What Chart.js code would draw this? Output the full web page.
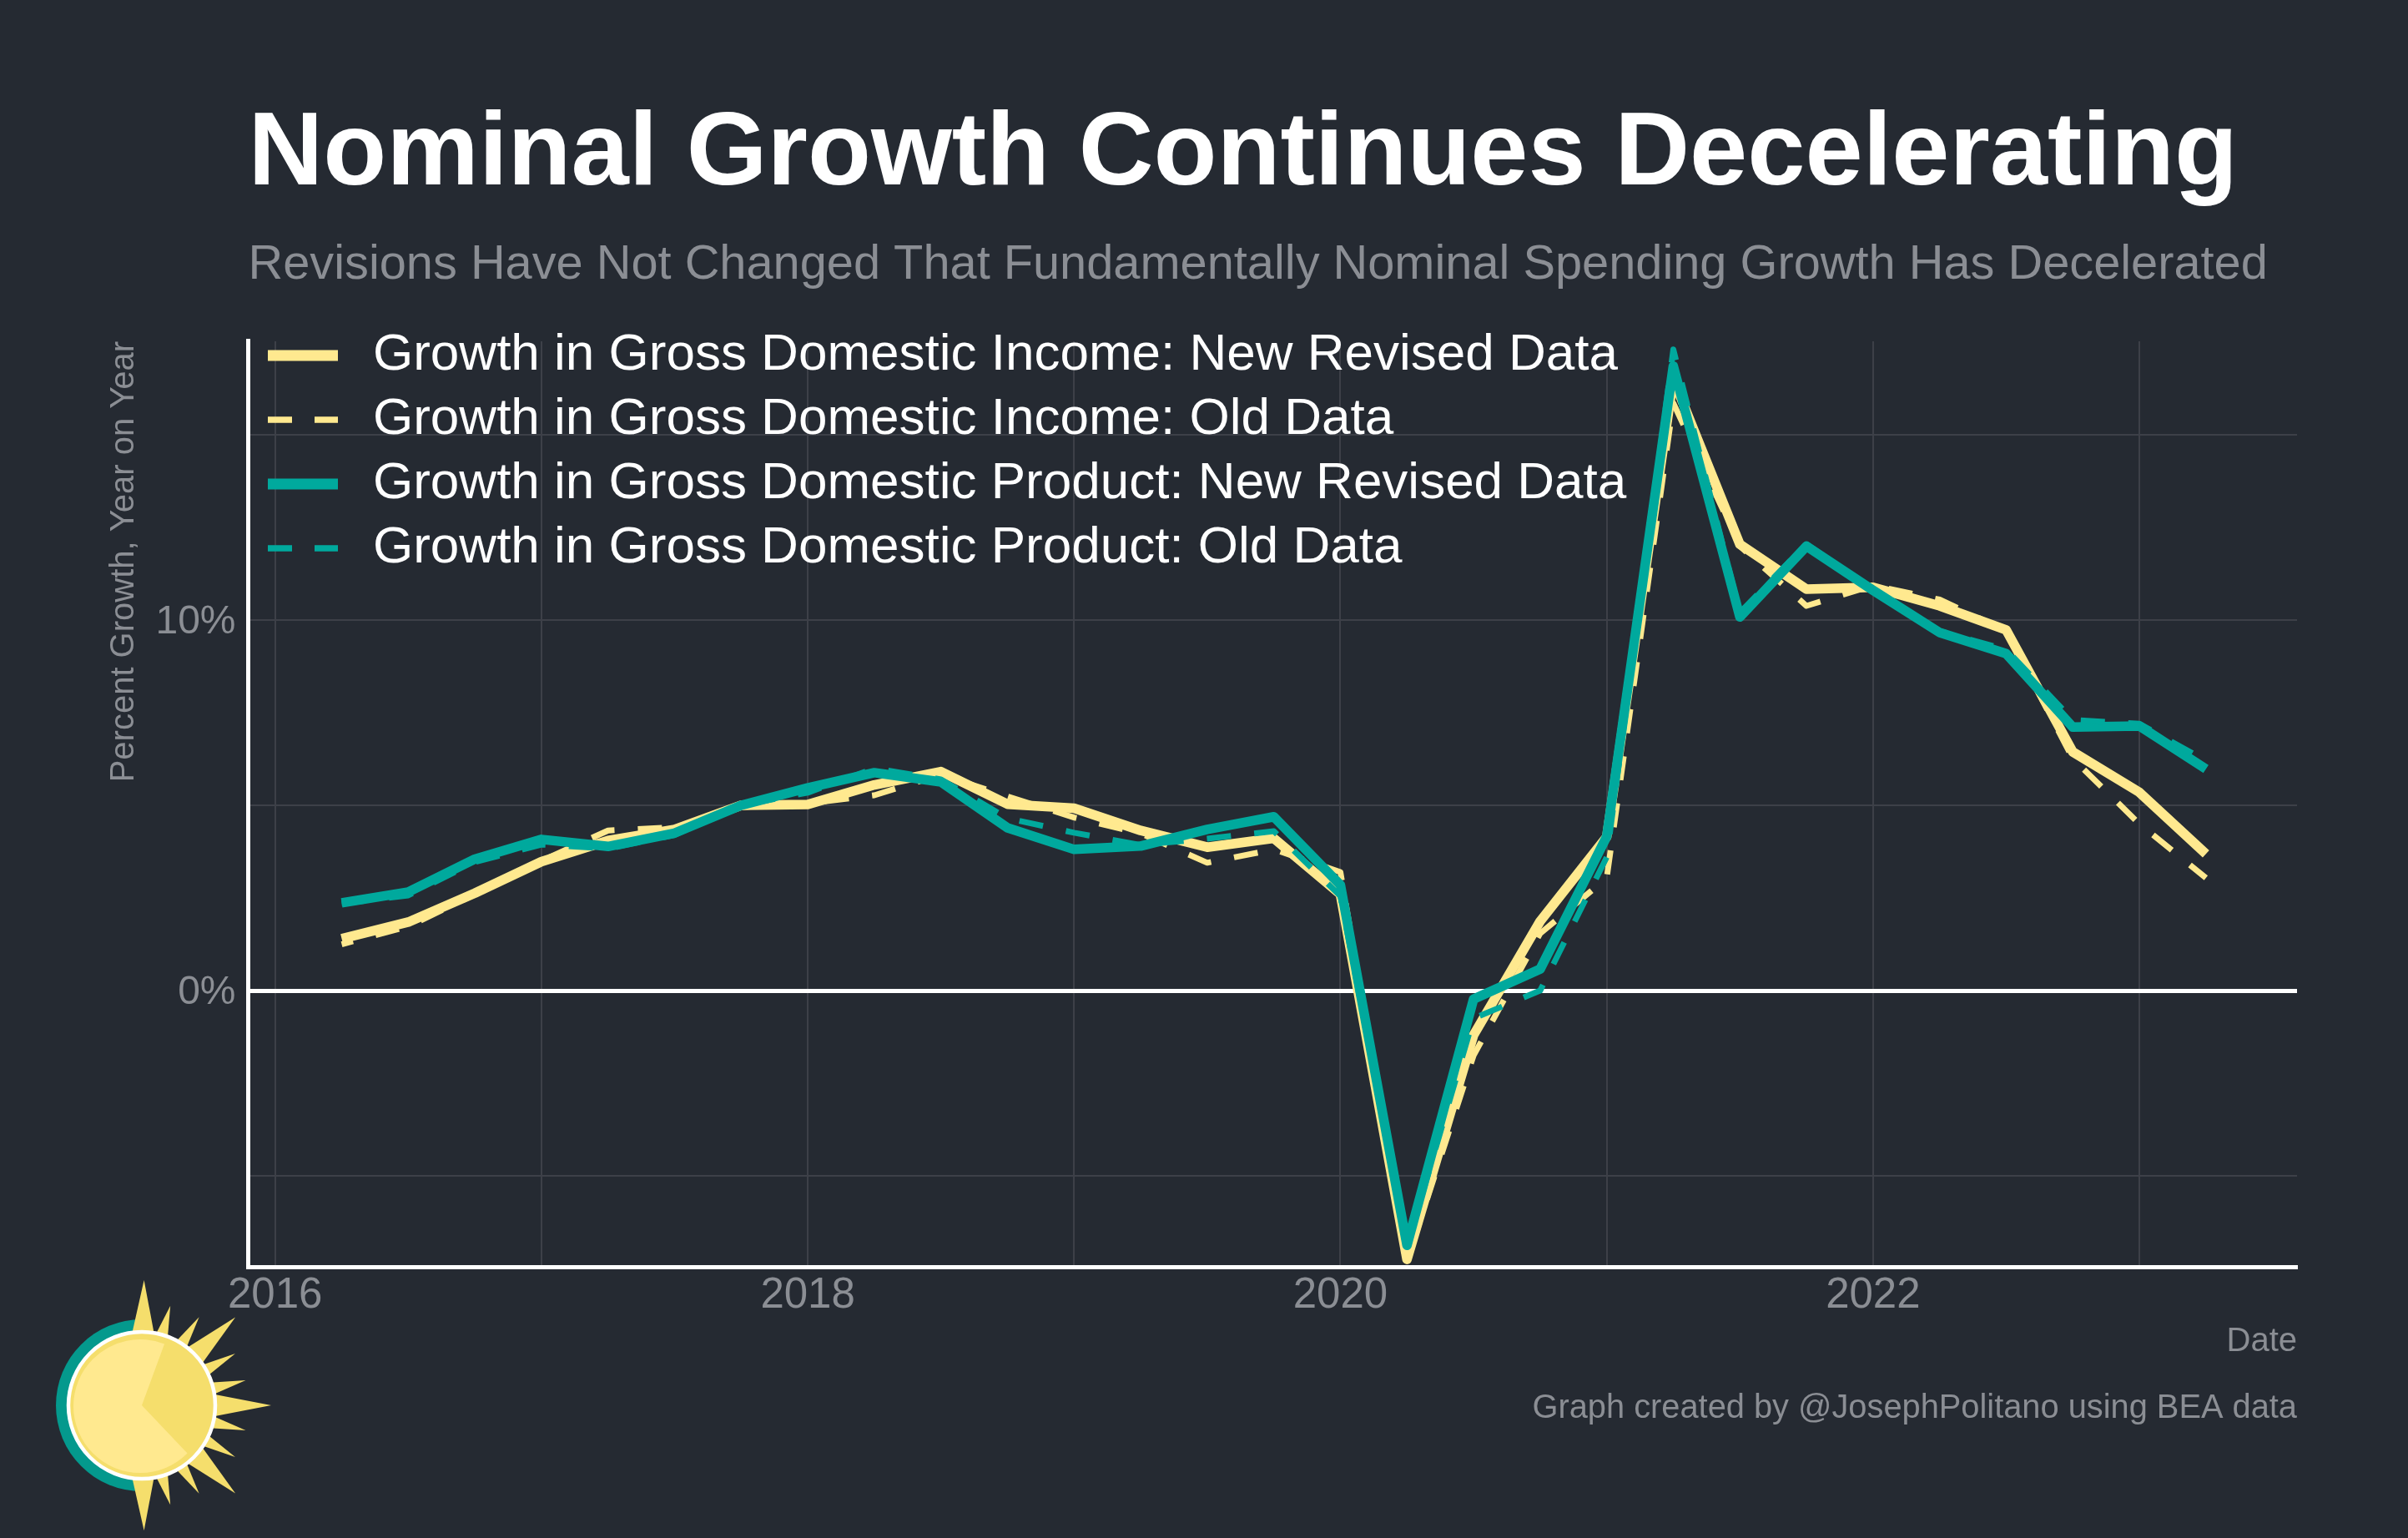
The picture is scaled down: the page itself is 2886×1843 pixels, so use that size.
<!DOCTYPE html>
<html>
<head>
<meta charset="utf-8">
<title>Nominal Growth Continues Decelerating</title>
<script src="https://cdn.jsdelivr.net/npm/chart.js@4/dist/chart.umd.js"></script>
<style>
  html, body { margin: 0; padding: 0; background: #252A32; }
  canvas { display: block; }
</style>
</head>
<body>
<canvas id="chart" width="2886" height="1843"></canvas>
<script>
// trimestres en años decimales
const quarters = [2016.25, 2016.5, 2016.75, 2017, 2017.25, 2017.5, 2017.75, 2018, 2018.25, 2018.5,
  2018.75, 2019, 2019.25, 2019.5, 2019.75, 2020, 2020.25, 2020.5, 2020.75, 2021,
  2021.25, 2021.5, 2021.75, 2022, 2022.25, 2022.5, 2022.75, 2023, 2023.25];

const gdiNew = [1.4, 1.85, 2.63, 3.48, 4.05, 4.35, 5.0, 5.02, 5.55, 5.91,
  5.03, 4.92, 4.32, 3.87, 4.11, 2.6, -7.25, -1.2, 1.87, 4.15,
  16.5, 12.04, 10.83, 10.88, 10.38, 9.73, 6.44, 5.35, 3.69];
const gdiOld = [1.25, 1.73, 2.6, 3.5, 4.32, 4.41, 4.95, 5.05, 5.27, 5.83,
  5.24, 4.67, 4.24, 3.45, 3.81, 3.2, -7.3, -1.75, 1.54, 3.04,
  15.85, 11.99, 10.38, 10.93, 10.55, 9.7, 6.26, 4.5, 3.04];
const gdpNew = [2.37, 2.66, 3.55, 4.08, 3.89, 4.25, 5.0, 5.47, 5.88, 5.63,
  4.39, 3.81, 3.9, 4.35, 4.69, 2.85, -6.87, -0.23, 0.58, 4.16,
  16.85, 10.08, 11.99, 10.8, 9.66, 9.09, 7.11, 7.14, 5.98];
const gdpOld = [2.35, 2.57, 3.47, 3.94, 3.83, 4.2, 5.0, 5.34, 6.0, 5.7,
  4.65, 4.26, 3.93, 4.1, 4.3, 2.55, -6.9, -0.75, 0, 3.6,
  17.3, 10.2, 12.05, 10.8, 9.7, 9.2, 7.3, 7.2, 6.2];

const seriesNames = [
  'Growth in Gross Domestic Income: New Revised Data',
  'Growth in Gross Domestic Income: Old Data',
  'Growth in Gross Domestic Product: New Revised Data',
  'Growth in Gross Domestic Product: Old Data'
];

const YELLOW = '#FFE98F';
const TEAL = '#00A99D';
const MUTED = '#8B8E94';
const GRID = '#3D4048';
const FONT = '"Liberation Sans", Arial, sans-serif';

Chart.defaults.font.family = FONT;

function serie(name, values, color, dashed, order) {
  return {
    label: name,
    data: values.map((v, i) => ({ x: quarters[i], y: v })),
    borderColor: color,
    borderWidth: dashed ? 7 : 11.5,
    borderDash: dashed ? [29, 28] : [],
    borderJoinStyle: 'round',
    borderCapStyle: 'butt',
    pointRadius: 0,
    tension: 0,
    order: order
  };
}

// logo del sol y pie de gráfica
const extras = {
  id: 'extras',
  afterLayout(chart) {
    // la leyenda arranca por encima del área del gráfico
    chart.legend.left = 306;
    chart.legend.top = 380;
  },
  afterDraw(chart) {
    const ctx = chart.ctx;
    ctx.save();
    ctx.fillStyle = MUTED;
    ctx.font = '39.8px ' + FONT;
    ctx.textAlign = 'right';
    ctx.textBaseline = 'middle';
    ctx.fillText('Graph created by @JosephPolitano using BEA data', 2753, 1688);

    const cx = 170, cy = 1684;
    ctx.fillStyle = '#04998D';
    ctx.beginPath();
    ctx.arc(cx, cy, 103, Math.PI / 2, Math.PI * 1.5);
    ctx.fill();

    ctx.fillStyle = '#F5DE6C';
    const ray = (deg, tip, half) => {
      const p = (d, r) => [cx + r * Math.sin(d * Math.PI / 180), cy - r * Math.cos(d * Math.PI / 180)];
      ctx.beginPath();
      ctx.moveTo(...p(deg - half, 86));
      ctx.lineTo(...p(deg, tip));
      ctx.lineTo(...p(deg + half, 86));
      ctx.fill();
    };
    [[1, 150, 9], [16, 124, 5], [33, 126, 5], [46.7, 154, 9], [61, 128, 5], [76.5, 128, 5],
      [90, 155, 9], [103.5, 128, 5], [119, 128, 5], [133.3, 154, 9], [147, 126, 5], [164, 124, 5], [179, 150, 9]]
      .forEach(r => ray(r[0], r[1], r[2]));

    ctx.beginPath();
    ctx.arc(cx, cy, 88, 0, Math.PI * 2);
    ctx.fill();
    ctx.strokeStyle = '#FFFFFF';
    ctx.lineWidth = 4.5;
    ctx.stroke();

    ctx.fillStyle = YELLOW;
    ctx.beginPath();
    ctx.moveTo(cx, cy);
    ctx.arc(cx - 2, cy + 1, 80, 45 * Math.PI / 180, -68.7 * Math.PI / 180);
    ctx.closePath();
    ctx.fill();
    ctx.restore();
  }
};

const gdiOldSerie = serie(seriesNames[1], gdiOld, YELLOW, true, 3);
gdiOldSerie.borderDashOffset = 15;

new Chart(document.getElementById('chart'), {
  type: 'line',
  data: {
    datasets: [
      serie(seriesNames[0], gdiNew, YELLOW, false, 4),
      gdiOldSerie,
      serie(seriesNames[2], gdpNew, TEAL, false, 2),
      serie(seriesNames[3], gdpOld, TEAL, true, 1)
    ]
  },
  plugins: [extras],
  options: {
    responsive: false,
    devicePixelRatio: 1,
    animation: false,
    layout: { padding: { top: 112, left: 125, right: 133, bottom: 211 } },
    plugins: {
      title: {
        display: true,
        text: 'Nominal Growth Continues Decelerating',
        align: 'start',
        fullSize: false,
        color: '#FFFFFF',
        font: { size: 124.4, weight: 'bold', lineHeight: 1.2 },
        padding: 0
      },
      subtitle: {
        display: true,
        text: 'Revisions Have Not Changed That Fundamentally Nominal Spending Growth Has Decelerated',
        align: 'start',
        fullSize: false,
        color: MUTED,
        font: { size: 57.75, lineHeight: 1.2 },
        padding: { top: 22, bottom: 56.3 }
      },
      legend: {
        position: 'chartArea',
        align: 'start',
        labels: {
          color: '#FFFFFF',
          font: { size: 62 },
          padding: 15,
          usePointStyle: true,
          pointStyle: 'line',
          pointStyleWidth: 95,
          generateLabels(chart) {
            return chart.data.datasets.map((ds, i) => ({
              text: ds.label,
              datasetIndex: i,
              fontColor: '#FFFFFF',
              strokeStyle: ds.borderColor,
              fillStyle: ds.borderColor,
              lineWidth: ds.borderDash.length ? 7.5 : 13,
              lineDash: ds.borderDash.length ? [29, 27, 28, 200] : [84, 200],
              pointStyle: 'line'
            }));
          }
        }
      }
    },
    scales: {
      x: {
        type: 'linear',
        min: 2015.899,
        max: 2023.592,
        afterFit(s) { s.height = 114; },
        grid: { color: GRID, lineWidth: 2, drawTicks: false },
        border: { display: true, color: '#FFFFFF', width: 5 },
        ticks: {
          stepSize: 1,
          includeBounds: false,
          autoSkip: false,
          maxRotation: 0,
          color: MUTED,
          font: { size: 51 },
          padding: 4,
          callback: v => (v % 2 === 0 ? String(v) : '')
        },
        title: {
          display: true,
          text: 'Date',
          align: 'end',
          color: MUTED,
          font: { size: 40 },
          padding: 0
        }
      },
      y: {
        min: -7.45,
        max: 17.52,
        afterFit(s) { s.width = 172.5; },
        grid: {
          color: c => (c.tick.value === 0 ? '#FFFFFF' : GRID),
          lineWidth: c => (c.tick.value === 0 ? 5 : 2),
          drawTicks: false
        },
        border: { display: true, color: '#FFFFFF', width: 5 },
        ticks: {
          stepSize: 5,
          includeBounds: false,
          color: MUTED,
          font: { size: 48 },
          padding: 15,
          labelOffset: 3,
          callback: v => (v === 0 || v === 10 ? v + '%' : '')
        },
        title: {
          display: true,
          text: 'Percent Growth, Year on Year',
          align: 'end',
          color: MUTED,
          font: { size: 40 },
          padding: 0
        }
      }
    }
  }
});
</script>
</body>
</html>
